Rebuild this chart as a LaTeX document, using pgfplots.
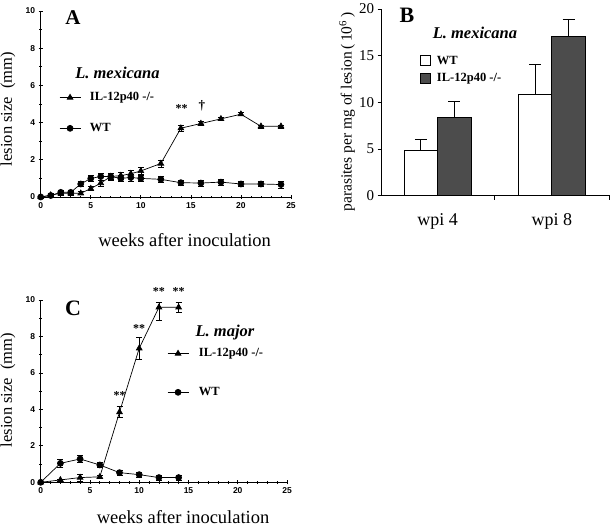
\documentclass[border=0pt]{standalone}
\usepackage{fontspec}
\setmainfont{Liberation Serif}
\setsansfont{Liberation Sans}
\usepackage{pgfplots}
\pgfplotsset{compat=1.18}
\usepackage{pgfplotstable}

\pgfplotstableread{
x y e
0 0 0.05
1 0.1 0.1
2 0.2 0.12
3 0.2 0.1
4 0.2 0.08
5 0.45 0.1
6 0.75 0.15
7 1.1 0.15
8 1.15 0.18
9 1.25 0.18
10 1.4 0.2
12 1.8 0.18
14 3.7 0.18
16 3.95 0.1
18 4.2 0.08
20 4.45 0.08
22 3.8 0.08
24 3.8 0.08
}\Ako
\pgfplotstableread{
x y e
0 0 0.05
1 0.08 0.08
2 0.25 0.12
3 0.25 0.1
4 0.7 0.15
5 1.0 0.15
6 1.1 0.18
7 1.1 0.18
8 1.0 0.18
9 1.05 0.18
10 1.0 0.18
12 0.95 0.15
14 0.77 0.15
16 0.75 0.15
18 0.8 0.15
20 0.7 0.15
22 0.7 0.15
24 0.67 0.18
}\Awt
\pgfplotstableread{
x y ep em
0 0 0.02 0.02
2 0.13 0.05 0.05
4 0.26 0.2 0.2
6 0.3 0.08 0.08
8 3.85 0.3 0.3
10 7.35 0.6 0.6
12 9.6 0.3 0.7
14 9.6 0.3 0.3
}\Cko
\pgfplotstableread{
x y ep em
0 0 0.02 0.02
2 1.04 0.2 0.2
4 1.28 0.2 0.2
6 0.95 0.15 0.15
8 0.53 0.15 0.15
10 0.42 0.15 0.15
12 0.26 0.15 0.15
14 0.26 0.15 0.15
}\Cwt
\pgfplotstableread{
x y e
0 4.9 1.1
1 10.9 3.2
}\Bwt
\pgfplotstableread{
x y e
0 8.35 1.7
1 17.05 1.85
}\Bko

\pgfplotsset{
  lesion/.style={
    scale only axis, xmin=0, xmax=25, ymin=0, ymax=10,
    axis lines=left, axis line style={-, line width=0.8pt},
    xtick={0,5,...,25}, ytick={0,2,...,10},
    minor xtick={1,2,3,4,6,7,8,9,11,12,13,14,16,17,18,19,21,22,23,24},
    minor ytick={1,3,5,7,9},
    tick align=center, major tick length=4pt, minor tick length=2.5pt,
    tick style={black, line width=0.7pt},
    /pgf/number format/assume math mode=true,
    tick label style={font=\sffamily\bfseries\fontsize{8.5}{9}\selectfont},
    clip=false,
    xlabel={weeks after inoculation},
    xlabel style={font=\fontsize{18.5}{20}\selectfont, anchor=base, inner sep=0pt},
    legend cell align=left,
    legend image code/.code={\draw[mark repeat=2,mark phase=2,#1] plot coordinates {(0pt,0pt) (10.5pt,0pt) (21pt,0pt)};},
  },
  ko/.style={black, line width=0.7pt, mark=triangle*, mark size=3.3pt, mark options={solid, fill=black},
    error bars/.cd, y dir=both, y explicit, error bar style={line width=0.6pt}, error mark options={rotate=90, mark size=3pt, line width=0.6pt}},
  wt/.style={black, line width=0.7pt, mark=*, mark size=3pt, mark options={solid, fill=black},
    error bars/.cd, y dir=both, y explicit, error bar style={line width=0.6pt}, error mark options={rotate=90, mark size=3pt, line width=0.6pt}},
}

\begin{document}
\begin{tikzpicture}
\useasboundingbox (0,0) rectangle (613pt,528pt);

% Panel A
\begin{axis}[lesion, at={(40.7pt,331pt)}, anchor=south west, width=250.3pt, height=186pt,
  xlabel style={at={(axis description cs:0.575,-0.267)}},
  legend style={at={(axis cs:1.83,4.52)}, anchor=west, draw=none, fill=none,
    font=\bfseries\fontsize{12.5}{14}\selectfont, row sep=17pt, inner sep=0pt,
    nodes={inner xsep=9pt}},
]
\addplot[ko] table[x=x, y=y, y error=e] {\Ako};
\addlegendentry{IL-12p40 -/-}
\addplot[wt] table[x=x, y=y, y error=e] {\Awt};
\addlegendentry{WT}
\node[rotate=90, anchor=center, font=\fontsize{16.5}{18}\selectfont] at (axis description cs:-0.131,0.473) {lesion size\ \ (mm)};
\node[font=\bfseries\fontsize{21}{22}\selectfont] at (axis cs:3.23,9.62) {A};
\node[font=\bfseries\itshape\fontsize{16.5}{18}\selectfont] at (axis cs:7.67,6.67) {L. mexicana};
\node[font=\bfseries\fontsize{12}{13}\selectfont] at (axis cs:14.08,4.78) {**};
\node[font=\bfseries\fontsize{13}{14}\selectfont] at (axis cs:16.1,4.9) {†};
\end{axis}

% Panel B
\begin{axis}[at={(381.7pt,332.3pt)}, anchor=south west, scale only axis,
  width=228.3pt, height=186.7pt,
  ybar=0pt, bar width=33.5pt,
  xmin=-0.49, xmax=1.51, ymin=0, ymax=20,
  axis lines=left, axis line style={-, line width=0.7pt},
  xtick={0,1}, xticklabels={wpi 4, wpi 8}, minor xtick={0.5,1.5},
  ytick={0,5,...,20},
  tick align=outside, major tick length=4pt, minor tick length=4pt,
  tick style={black, line width=0.6pt},
  xtick style={draw=none}, minor x tick style={draw=black},
  /pgf/number format/assume math mode=true,
  yticklabel style={font=\fontsize{15}{16}\selectfont},
  xticklabel style={font=\fontsize{18}{20}\selectfont, yshift=-10pt},
  ylabel={parasites per mg of lesion\,(\,10\textsuperscript{6}\,)},
  ylabel style={font=\fontsize{15.5}{17}\selectfont, at={(axis description cs:-0.152,0.448)}, anchor=center},
  clip=false,
  legend cell align=left,
  legend image code/.code={\draw[#1, draw=black, line width=0.8pt] (0pt,-5pt) rectangle (10pt,5pt);},
  legend style={at={(axis cs:-0.155,13.5)}, anchor=west, draw=none, fill=none,
    font=\bfseries\fontsize{12.5}{14}\selectfont, row sep=4pt, inner sep=0pt,
    nodes={inner xsep=6pt}},
]
\addplot[fill=white, draw=black, line width=0.8pt,
  error bars/.cd, y dir=plus, y explicit, error bar style={line width=0.8pt}, error mark options={rotate=90, mark size=6pt, line width=0.8pt}]
  table[x=x, y=y, y error=e] {\Bwt};
\addlegendentry{WT}
\addplot[fill=black!70, draw=black, line width=0.8pt,
  error bars/.cd, y dir=plus, y explicit, error bar style={line width=0.8pt}, error mark options={rotate=90, mark size=6pt, line width=0.8pt}]
  table[x=x, y=y, y error=e] {\Bko};
\addlegendentry{IL-12p40 -/-}
\node[font=\bfseries\fontsize{22}{24}\selectfont] at (axis cs:-0.268,19.36) {B};
\node[font=\bfseries\itshape\fontsize{16.5}{18}\selectfont] at (axis cs:0.327,17.43) {L. mexicana};
\end{axis}

% Panel C
\begin{axis}[lesion, at={(40.7pt,45.7pt)}, anchor=south west, width=246.3pt, height=182.3pt,
  xlabel style={at={(axis description cs:0.578,-0.226)}},
  legend style={at={(axis cs:12.82,6.0)}, anchor=west, draw=none, fill=none,
    font=\bfseries\fontsize{12.5}{14}\selectfont, row sep=25pt, inner sep=0pt,
    nodes={inner xsep=10pt}},
]
\addplot[ko] table[x=x, y=y, y error plus=ep, y error minus=em] {\Cko};
\addlegendentry{IL-12p40 -/-}
\addplot[wt] table[x=x, y=y, y error plus=ep, y error minus=em] {\Cwt};
\addlegendentry{WT}
\node[rotate=90, anchor=center, font=\fontsize{16.5}{18}\selectfont] at (axis description cs:-0.133,0.506) {lesion size\ \ (mm)};
\node[font=\bfseries\fontsize{22}{24}\selectfont] at (axis cs:3.28,9.56) {C};
\node[font=\bfseries\itshape\fontsize{16.5}{18}\selectfont] at (axis cs:18.7,8.19) {L. major};
\node[font=\bfseries\fontsize{12}{13}\selectfont] at (axis cs:8,4.75) {**};
\node[font=\bfseries\fontsize{12}{13}\selectfont] at (axis cs:10,8.45) {**};
\node[font=\bfseries\fontsize{12}{13}\selectfont] at (axis cs:12,10.45) {**};
\node[font=\bfseries\fontsize{12}{13}\selectfont] at (axis cs:14,10.45) {**};
\end{axis}
\end{tikzpicture}
\end{document}
